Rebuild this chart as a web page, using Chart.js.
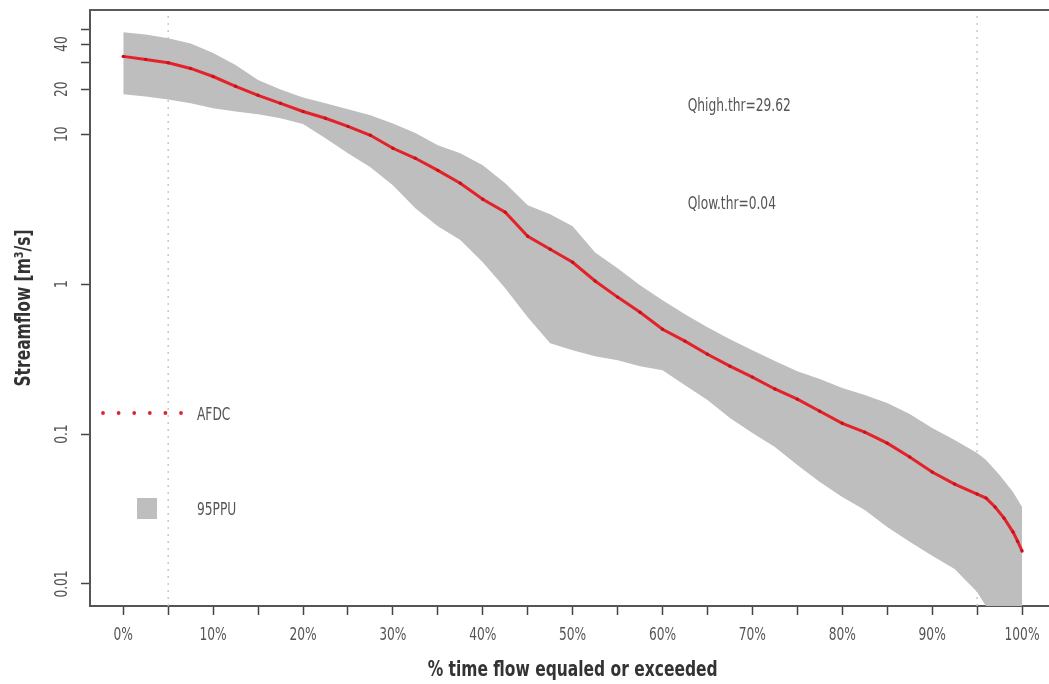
<!DOCTYPE html>
<html><head><meta charset="utf-8">
<script src="https://cdn.jsdelivr.net/npm/chart.js@4.4.1/dist/chart.umd.min.js"></script>
<style>html,body{margin:0;padding:0;background:#fff;overflow:hidden}</style>
</head><body>
<canvas id="c" width="1049" height="684"></canvas>
<script>
const FONT = "'Liberation Sans Narrow','DejaVu Sans Condensed','Roboto Condensed','Open Sans',sans-serif";

// AFDC (observed flow duration curve)
const afdcPct  = [0,2.5,5,7.5,10,12.5,15,17.5,20,22.5,25,27.5,30,32.5,35,37.5,40,42.5,45,47.5,50,52.5,55,57.5,60,62.5,65,67.5,70,72.5,75,77.5,80,82.5,85,87.5,90,92.5,95,96,97,98,99,99.5,100];
const afdcFlow = [33.1,31.6,30.0,27.5,24.3,20.9,18.2,16.1,14.2,12.8,11.3,9.85,8.07,6.92,5.75,4.71,3.69,3.02,2.09,1.71,1.40,1.05,0.82,0.65,0.50,0.417,0.341,0.284,0.240,0.200,0.171,0.142,0.118,0.103,0.087,0.0703,0.0558,0.0464,0.0398,0.0374,0.0326,0.0275,0.0222,0.0193,0.0166];

// 95PPU band
const bandPct  = [0,2.5,5,7.5,10,12.5,15,17.5,20,22.5,25,27.5,30,32.5,35,37.5,40,42.5,45,47.5,50,52.5,55,57.5,60,62.5,65,67.5,70,72.5,75,77.5,80,82.5,85,87.5,90,92.5,95,96,97.5,99,100];
const ppuUpper = [47.9,46.4,43.7,40.4,34.9,29.0,23.0,19.9,17.6,16.1,14.7,13.4,11.8,10.2,8.45,7.47,6.21,4.71,3.36,2.93,2.44,1.63,1.28,0.985,0.78,0.631,0.517,0.43,0.363,0.307,0.263,0.233,0.203,0.182,0.161,0.136,0.110,0.0912,0.0747,0.0672,0.0533,0.0411,0.0326];
const ppuLower = [18.5,17.9,17.1,16.1,14.9,14.2,13.6,12.8,11.7,9.4,7.47,6.03,4.57,3.21,2.44,1.97,1.40,0.94,0.603,0.404,0.363,0.331,0.311,0.284,0.267,0.212,0.169,0.128,0.1016,0.0819,0.0621,0.0479,0.038,0.0311,0.024,0.0191,0.0154,0.0126,0.00885,0.0071,0.0052,0.0045,0.004];

const refLinePct = [5, 95];
const xTicks = [0,5,10,15,20,25,30,35,40,45,50,55,60,65,70,75,80,85,90,95,100];
const xTickLabels = ['0%','','10%','','20%','','30%','','40%','','50%','','60%','','70%','','80%','','90%','','100%'];
const yTicks = [0.01,0.1,1,10,20,30,40,50];
const yTickLabels = ['0.01','0.1','1','10','20','','40',''];
const X_MIN = -3.7, X_MAX = 103.0, Y_MIN = 0.00713, Y_MAX = 67.5;

const xTitle = '% time flow equaled or exceeded';
const yTitle = 'Streamflow [m³/s]';
const annotText = ['Qhigh.thr=29.62','Qlow.thr=0.04'];
const annotPct  = [62.8, 62.8];
const annotFlow = [14.3, 3.17];
const legendLabels = ['AFDC','95PPU'];

const RED = '#e3222a', GREY = '#bebebe', TXT = '#555', TITLE = '#333';

// draw horizontally-condensed text
function txt(ctx, s, x, y, o) {
  ctx.save();
  ctx.font = `${o.bold ? 'bold ' : ''}${o.size}px ${FONT}`;
  ctx.fillStyle = o.color || TXT;
  ctx.textAlign = o.align || 'left';
  ctx.textBaseline = 'alphabetic';
  ctx.translate(x, y);
  if (o.rot) ctx.rotate(o.rot);
  ctx.scale(o.sx || 0.8, 1);
  ctx.fillText(s, 0, 0);
  ctx.restore();
}

const extras = {
  id: 'extras',
  afterDraw(chart) {
    const {ctx, chartArea: a, scales: {x, y}} = chart;
    ctx.save();
    // top frame line
    ctx.strokeStyle = '#5a5a5a'; ctx.lineWidth = 2;
    ctx.beginPath(); ctx.moveTo(a.left - 1, a.top); ctx.lineTo(a.right, a.top); ctx.stroke();
    // x tick labels
    xTicks.forEach((v, i) => {
      if (xTickLabels[i]) txt(ctx, xTickLabels[i], x.getPixelForValue(v), 640, {size: 17, align: 'center'});
    });
    // y tick labels (rotated)
    yTicks.forEach((v, i) => {
      if (yTickLabels[i]) txt(ctx, yTickLabels[i], 67, y.getPixelForValue(v), {size: 17, align: 'center', rot: -Math.PI / 2});
    });
    // axis titles
    txt(ctx, xTitle, x.getPixelForValue(50), 676, {size: 21, bold: true, color: TITLE, align: 'center', sx: 0.82});
    txt(ctx, yTitle, 29.5, (a.top + a.bottom) / 2, {size: 21, bold: true, color: TITLE, align: 'center', sx: 0.82, rot: -Math.PI / 2});
    // annotations
    annotText.forEach((t, i) => txt(ctx, t, x.getPixelForValue(annotPct[i]), y.getPixelForValue(annotFlow[i]), {size: 17}));
    // legend
    ctx.fillStyle = RED;
    for (let i = 0; i < 6; i++) { ctx.beginPath(); ctx.arc(103 + 15.6 * i, 413, 1.9, 0, Math.PI * 2); ctx.fill(); }
    ctx.fillStyle = GREY; ctx.fillRect(137, 498, 20, 21);
    txt(ctx, legendLabels[0], 197, 420, {size: 17});
    txt(ctx, legendLabels[1], 197, 515, {size: 17});
    ctx.restore();
  }
};

const refLine = p => ({
  data: [{x: p, y: Y_MIN}, {x: p, y: Y_MAX}],
  borderColor: '#c8c8c8', borderWidth: 1.5, borderDash: [2, 5],
  pointRadius: 0, fill: false, order: 3
});

new Chart(document.getElementById('c'), {
  type: 'line',
  data: {
    datasets: [
      { label: 'AFDC', data: afdcPct.map((p, i) => ({x: p, y: afdcFlow[i]})),
        borderColor: RED, borderWidth: 3, pointRadius: 1.7, pointBorderWidth: 0,
        pointBackgroundColor: '#c4121a', fill: false, order: 0 },
      { label: '95PPU', data: bandPct.map((p, i) => ({x: p, y: ppuUpper[i]})),
        borderWidth: 0, borderColor: 'rgba(0,0,0,0)', pointRadius: 0,
        backgroundColor: GREY, fill: '+1', order: 2 },
      { label: '95PPU lower', data: bandPct.map((p, i) => ({x: p, y: ppuLower[i]})),
        borderWidth: 0, borderColor: 'rgba(0,0,0,0)', pointRadius: 0, fill: false, order: 2 },
      refLine(refLinePct[0]),
      refLine(refLinePct[1])
    ]
  },
  options: {
    responsive: false, animation: false, devicePixelRatio: 1,
    layout: {autoPadding: false, padding: {top: 10, left: 0, right: 0, bottom: 0}},
    plugins: {legend: {display: false}, tooltip: {enabled: false}},
    scales: {
      x: {
        type: 'linear', min: X_MIN, max: X_MAX,
        afterBuildTicks: s => { s.ticks = xTicks.map(v => ({value: v})); },
        afterFit: s => { s.height = 78; s.paddingLeft = 0; s.paddingRight = 0; },
        ticks: {display: false},
        grid: {drawOnChartArea: false, drawTicks: true, tickLength: 9, tickColor: '#444', tickWidth: 1.5},
        border: {display: true, color: '#555', width: 2},
        title: {display: false}
      },
      y: {
        type: 'logarithmic', min: Y_MIN, max: Y_MAX,
        afterBuildTicks: s => { s.ticks = yTicks.map(v => ({value: v})); },
        afterFit: s => { s.width = 90; s.paddingTop = 0; s.paddingBottom = 0; },
        ticks: {display: false},
        grid: {drawOnChartArea: false, drawTicks: true, tickLength: 9, tickColor: '#444', tickWidth: 1.5},
        border: {display: true, color: '#555', width: 2},
        title: {display: false}
      }
    }
  },
  plugins: [extras]
});
</script>
</body></html>
